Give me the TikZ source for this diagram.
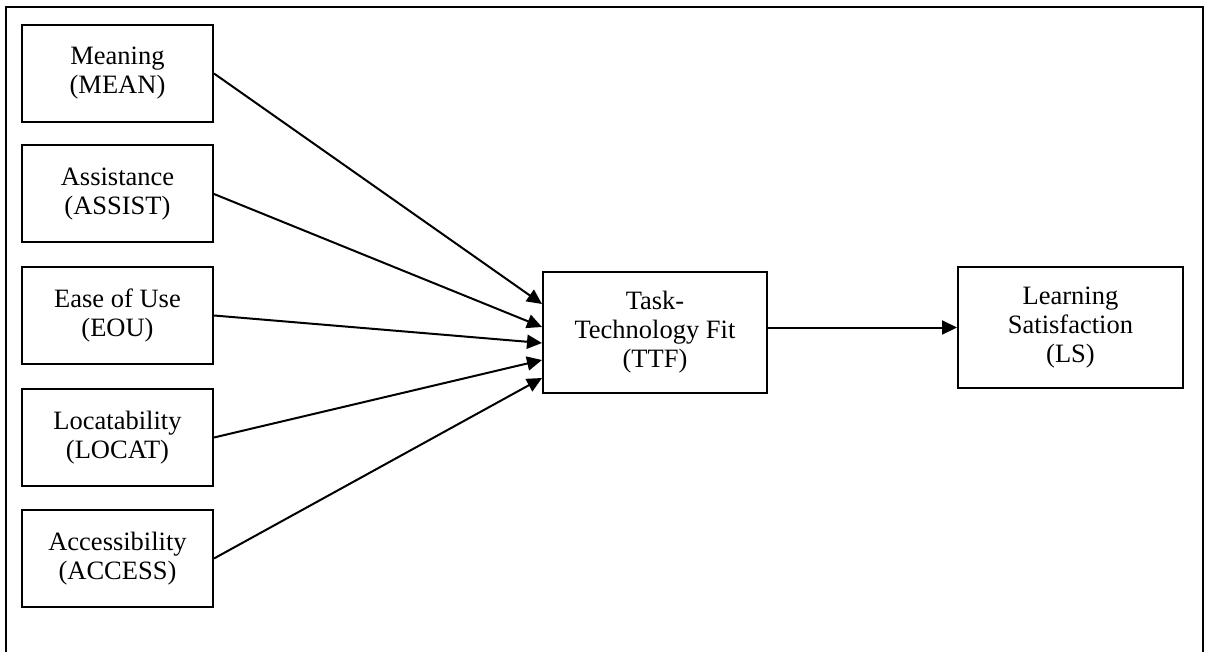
\documentclass[tikz,border=0pt]{standalone}
\usepackage{fontspec}
\setmainfont{Liberation Serif}
\usetikzlibrary{arrows.meta}
\begin{document}
\begin{tikzpicture}[x=1pt,y=-1pt,
  box/.style={draw,line width=2pt,align=center,inner sep=0pt,
    font=\fontsize{26.5}{29}\selectfont},
  lbox/.style={box,minimum width=191pt,minimum height=97pt},
  bbox/.style={box,minimum width=224pt,minimum height=121pt},
  conn/.style={line width=2pt,-{Triangle[length=15pt,width=14pt]}}]
\useasboundingbox (0,0) rectangle (1207,652);
\draw[line width=2pt] (6,720) -- (6,7) -- (1203,7) -- (1203,720);
\node[lbox] (mean) at (117.5,73.5) {Meaning\\(MEAN)};
\node[lbox] (assist) at (117.5,194) {Assistance\\(ASSIST)};
\node[lbox] (eou) at (117.5,315.5) {Ease of Use\\(EOU)};
\node[lbox] (locat) at (117.5,437.5) {Locatability\\(LOCAT)};
\node[lbox] (access) at (117.5,558.5) {Accessibility\\(ACCESS)};
\node[bbox] (ttf) at (655,332.5) {Task-\\Technology Fit\\(TTF)};
\node[bbox,minimum width=225pt] (ls) at (1070.5,327.5) {Learning\\Satisfaction\\(LS)};
\coordinate (t1) at (ttf.west |- 0,304);
\coordinate (t2) at (ttf.west |- 0,327);
\coordinate (t3) at (ttf.west |- 0,343);
\coordinate (t4) at (ttf.west |- 0,360);
\coordinate (t5) at (ttf.west |- 0,378);
\draw[conn] (mean.east) -- (t1);
\draw[conn] (assist.east) -- (t2);
\draw[conn] (eou.east) -- (t3);
\draw[conn] (locat.east) -- (t4);
\draw[conn] (access.east) -- (t5);
\draw[conn] (ttf.east |- ls.west) -- (ls.west);
\end{tikzpicture}
\end{document}
